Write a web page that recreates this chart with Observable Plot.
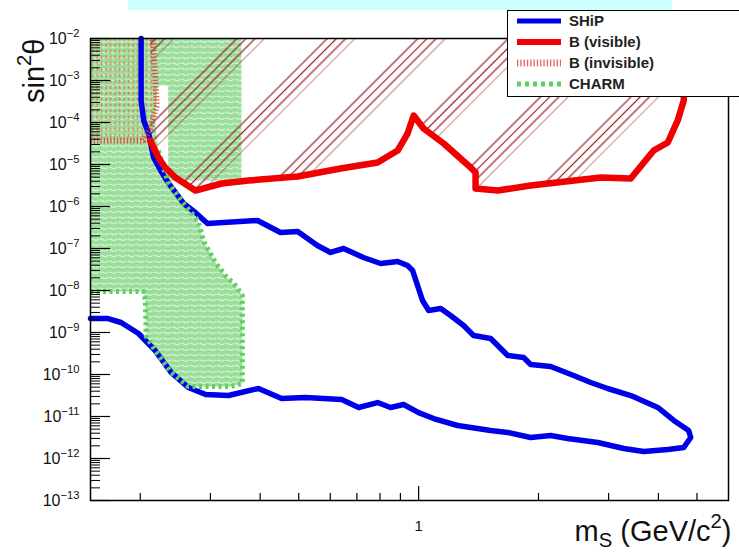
<!DOCTYPE html>
<html>
<head>
<meta charset="utf-8">
<script src="https://cdn.jsdelivr.net/npm/d3@7"></script>
<script src="https://cdn.jsdelivr.net/npm/@observablehq/plot@0.6"></script>
<style>
  html, body { margin: 0; padding: 0; background: #fff; }
  #wrap { position: relative; width: 739px; height: 552px; overflow: hidden;
          font-family: "Liberation Sans", Arial, Helvetica, sans-serif; }
  #banner { position: absolute; left: 128px; top: 0; width: 544px; height: 10px; background: #ccffff; }
  #legend { position: absolute; left: 507px; top: 10px; width: 240px; height: 87px; box-sizing: border-box;
            border: 1px solid #000; background: #fff; }
  .row { position: absolute; left: 0; width: 100%; height: 20px; }
  .row svg { position: absolute; left: 9px; top: 0; }
  .row span { position: absolute; left: 61px; top: 0; line-height: 20px; font-weight: bold; font-size: 15px;
              color: #222; white-space: nowrap; }
</style>
</head>
<body>
<div id="wrap">
  <div id="chart"></div>
  <div id="banner"></div>
  <div id="legend"></div>
</div>
<script>
const ns = "http://www.w3.org/2000/svg";

// SHiP sensitivity contour: upper branch from the top edge, round the tip, lower branch back to the left
const shipMass = [0.201, 0.201, 0.204, 0.210, 0.216, 0.225, 0.235, 0.257, 0.275, 0.295,
  0.394, 0.450, 0.497, 0.557, 0.601, 0.648, 0.727, 0.803, 0.886, 0.938,
  0.966, 1.023, 1.060, 1.136, 1.203, 1.297, 1.374, 1.517, 1.674, 1.835,
  1.911, 2.146, 2.450, 2.705, 2.984, 3.410, 3.986, 4.372, 4.766, 4.823,
  4.632, 4.224, 3.675, 3.275, 2.818, 2.367, 2.146, 1.911, 1.674, 1.517,
  1.253, 1.091, 1.000, 0.917, 0.850, 0.789, 0.707, 0.641, 0.520, 0.453,
  0.396, 0.367, 0.333, 0.292, 0.264, 0.239, 0.218, 0.198, 0.179, 0.166, 0.150];
const shipSin2 = [1e-2, 3.34e-4, 1.12e-4, 5.47e-5, 1.47e-5, 7.19e-6, 3.72e-6, 1.18e-6, 7.19e-7, 3.94e-7,
  4.64e-7, 2.40e-7, 2.54e-7, 1.18e-7, 8.04e-8, 1.0e-7, 6.11e-8, 4.40e-8, 4.90e-8, 3.94e-8,
  2.99e-8, 5.78e-9, 3.34e-9, 3.72e-9, 2.54e-9, 1.47e-9, 8.49e-10, 7.19e-10, 2.83e-10, 2.54e-10,
  1.73e-10, 1.55e-10, 9.46e-11, 6.46e-11, 4.64e-11, 3.16e-11, 1.64e-11, 8.04e-12, 4.64e-12, 3.16e-12,
  1.83e-12, 1.64e-12, 1.47e-12, 1.73e-12, 2.40e-12, 2.99e-12, 3.53e-12, 3.16e-12, 4.16e-12, 4.64e-12,
  6.11e-12, 8.95e-12, 1.24e-11, 1.93e-11, 1.64e-11, 2.15e-11, 1.64e-11, 2.54e-11, 2.83e-11, 2.69e-11,
  4.64e-11, 3.94e-11, 3.16e-11, 3.34e-11, 4.90e-11, 1.12e-10, 3.72e-10, 9.46e-10, 1.73e-9, 2.15e-9, 2.15e-9];

// B decays, visible final states: lower edge of the excluded region
const bVisMass = [0.212, 0.222, 0.231, 0.245, 0.275, 0.320, 0.374, 0.497, 0.637, 0.789,
  0.886, 0.938, 0.972, 1.029, 1.156, 1.351, 1.390, 1.390, 1.579, 1.911,
  2.865, 3.410, 3.893, 4.224, 4.473, 4.632, 4.659];
const bVisSin2 = [3.72e-5, 1.47e-5, 8.49e-6, 4.90e-6, 2.40e-6, 3.53e-6, 4.16e-6, 5.18e-6, 8.04e-6, 1.12e-5,
  2.15e-5, 5.47e-5, 1.47e-4, 7.19e-5, 3.16e-5, 8.49e-6, 6.46e-6, 2.69e-6, 2.40e-6, 3.16e-6,
  4.90e-6, 4.64e-6, 2.15e-5, 3.34e-5, 1.12e-4, 3.34e-4, 1e-2];

// B decays, invisible final states: boundary of the excluded corner
const bInvMass = [0.150, 0.204, 0.212, 0.220, 0.218, 0.215];
const bInvSin2 = [3.72e-5, 3.72e-5, 7.19e-5, 2.54e-4, 1.32e-3, 1e-2];

// CHARM excluded region: upper block, then the dotted outer edge
const charmTopMass = [0.150, 0.359, 0.359, 0.235, 0.235, 0.221, 0.218];
const charmTopSin2 = [1e-2, 1e-2, 4.16e-6, 4.16e-6, 7.60e-4, 7.60e-4, 1.12e-4];
const charmEdgeMass = [0.222, 0.229, 0.235, 0.257, 0.279, 0.283, 0.288, 0.297, 0.309, 0.327,
  0.347, 0.361, 0.361, 0.337, 0.264, 0.239, 0.218, 0.207, 0.206, 0.204, 0.150];
const charmEdgeSin2 = [2.15e-5, 8.04e-6, 3.72e-6, 1.18e-6, 4.64e-7, 2.99e-7, 1.55e-7, 8.95e-8, 4.64e-8, 2.28e-8,
  1.32e-8, 7.60e-9, 6.11e-11, 5.18e-11, 5.18e-11, 1.12e-10, 3.72e-10, 8.04e-10, 5.78e-9, 9.46e-9, 9.46e-9];

// axes
const xDomain = [0.15, 6];
const yDecades = [-13, -12, -11, -10, -9, -8, -7, -6, -5, -4, -3, -2];
const yMinorSteps = [2, 3, 4, 5, 6, 7, 8, 9];
const xMinorTicks = [0.2, 0.3, 0.4, 0.5, 0.6, 0.7, 0.8, 0.9, 2, 3, 4, 5];
const xLabelTicks = [1];

const legendItems = [
  {label: "SHiP", stroke: "#0000e8", width: 5, dash: null, opacity: 1},
  {label: "B (visible)", stroke: "#f00000", width: 6, dash: null, opacity: 1},
  {label: "B (invisible)", stroke: "#e03a3a", width: 7, dash: "1.3 2", opacity: 0.8},
  {label: "CHARM", stroke: "#5fcf5f", width: 5, dash: "4 4", opacity: 1}
];

const W = 739, H = 552, mL = 90, mR = 11, mT = 38, mB = 52;
const frameW = W - mL - mR, frameH = H - mT - mB;

const toPoints = (ms, ss) => ms.map((m, i) => ({m, s: ss[i]}));
const ship = toPoints(shipMass, shipSin2);
const bVis = toPoints(bVisMass, bVisSin2);
const bInv = toPoints(bInvMass, bInvSin2);
const charmTop = toPoints(charmTopMass, charmTopSin2);
const charmEdge = toPoints(charmEdgeMass, charmEdgeSin2);
const yLow = 10 ** yDecades[0], yTop = 10 ** yDecades[yDecades.length - 1];
const bVisArea = [...bVis, {m: bVisMass[0], s: yTop}];
const bInvArea = [...bInv, {m: xDomain[0], s: yTop}];
const charmArea = [...charmTop, ...charmEdge];

const yMajor = yDecades.map(e => 10 ** e);
const yMinor = yDecades.slice(0, -1).flatMap(e => yMinorSteps.map(k => k * 10 ** e));

const chart = Plot.plot({
  width: W, height: H,
  marginLeft: mL, marginRight: mR, marginTop: mT, marginBottom: mB,
  x: {type: "log", domain: xDomain},
  y: {type: "log", domain: [yLow, yTop]},
  style: {fontFamily: '"Liberation Sans", Arial, Helvetica, sans-serif', fontSize: "15px", background: "transparent", color: "#111"},
  marks: [
    Plot.line(charmArea, {x: "m", y: "s", fill: "url(#charmFill)", stroke: "none"}),
    Plot.line(bInvArea, {x: "m", y: "s", fill: "url(#bInvFill)", stroke: "none"}),
    Plot.line(bVisArea, {x: "m", y: "s", fill: "url(#bVisHatch)", stroke: "none"}),
    Plot.line(ship, {x: "m", y: "s", stroke: "#0000e8", strokeWidth: 5.5, strokeLinejoin: "round"}),
    Plot.line(charmEdge, {x: "m", y: "s", stroke: "#62cf62", strokeWidth: 5, strokeDasharray: "3,3.5",
      strokeLinecap: "butt", strokeLinejoin: "miter"}),
    Plot.line(bInv, {x: "m", y: "s", stroke: "#e03a3a", strokeWidth: 6, strokeDasharray: "1.3,2",
      strokeLinecap: "butt", strokeLinejoin: "miter", strokeOpacity: 0.85}),
    Plot.line(bVis, {x: "m", y: "s", stroke: "#f00000", strokeWidth: 6.5, strokeLinejoin: "round"}),
    Plot.frame({stroke: "#000", strokeWidth: 1.5}),
    Plot.ruleY(yMajor, {y: d => d, insetRight: frameW - 20, stroke: "#000", strokeWidth: 1.2}),
    Plot.ruleY(yMinor, {y: d => d, insetRight: frameW - 10, stroke: "#000", strokeWidth: 1}),
    Plot.ruleX(xLabelTicks, {x: d => d, insetTop: frameH - 14, stroke: "#000", strokeWidth: 1.2}),
    Plot.ruleX(xMinorTicks, {x: d => d, insetTop: frameH - 7, stroke: "#000", strokeWidth: 1.2}),
    Plot.axisY(yMajor, {tickSize: 0, tickPadding: 11, fontSize: 16, label: null,
      tickFormat: d => `10{^−${-Math.round(Math.log10(d))}}`}),
    Plot.axisX(xLabelTicks, {tickSize: 0, tickPadding: 20, fontSize: 15, label: null,
      tickFormat: d => String(d)}),
    Plot.text(["sin{^2}θ"], {text: d => d, frameAnchor: "top-left", dx: -47, dy: 0, rotate: -90,
      textAnchor: "end", lineAnchor: "bottom", fontSize: 29}),
    Plot.text(["m{_S} (GeV/c{^2})"], {text: d => d, frameAnchor: "bottom-right", dx: 3, dy: 40,
      textAnchor: "end", lineAnchor: "bottom", fontSize: 29})
  ]
});

// fill patterns for the excluded regions
const defs = document.createElementNS(ns, "defs");
defs.innerHTML = `
  <pattern id="charmFill" patternUnits="userSpaceOnUse" width="9" height="5.5">
    <rect width="9" height="5.5" fill="#9ade9a"/>
    <path d="M0.5 2.2h2.5l1 1h2.5l1 -1h1" fill="none" stroke="#e6f7e6" stroke-width="1.1"/>
  </pattern>
  <pattern id="bInvFill" patternUnits="userSpaceOnUse" width="4.5" height="6">
    <rect x="1.5" y="1" width="1.4" height="3.5" fill="#e2552e" fill-opacity="0.7"/>
  </pattern>
  <pattern id="bVisHatch" patternUnits="userSpaceOnUse" width="64" height="64" patternTransform="rotate(45)">
    <g stroke="#9a1c1f" stroke-width="1.2">
      <line x1="2" y1="0" x2="2" y2="64"/>
      <line x1="8.5" y1="0" x2="8.5" y2="64"/>
      <line x1="15" y1="0" x2="15" y2="64"/>
      <line x1="21.5" y1="0" x2="21.5" y2="64" stroke-opacity="0.45"/>
    </g>
  </pattern>`;
chart.insertBefore(defs, chart.firstChild);

// turn {^..} and {_..} markers into raised / lowered tspans
function richify(el) {
  const src = el.textContent;
  if (!src.includes("{")) return;
  const parts = src.split(/(\{[\^_][^}]*\})/).filter(p => p);
  el.textContent = "";
  let back = null;
  for (const p of parts) {
    const t = document.createElementNS(ns, "tspan");
    const m = p.match(/^\{([\^_])(.*)\}$/);
    if (m) {
      const up = m[1] === "^";
      t.textContent = m[2];
      t.setAttribute("style", "font-size:70%");
      t.setAttribute("dy", up ? "-0.6em" : "0.3em");
      back = up ? "0.42em" : "-0.21em";
    } else {
      t.textContent = p;
      if (back) t.setAttribute("dy", back);
      back = null;
    }
    el.appendChild(t);
  }
}
chart.querySelectorAll("text").forEach(richify);

document.getElementById("chart").appendChild(chart);

// legend
const legend = document.getElementById("legend");
legendItems.forEach((item, i) => {
  const row = document.createElement("div");
  row.className = "row";
  row.style.top = (i * 21) + "px";
  const s = document.createElementNS(ns, "svg");
  s.setAttribute("width", 46);
  s.setAttribute("height", 20);
  const ln = document.createElementNS(ns, "line");
  ln.setAttribute("x1", 0); ln.setAttribute("x2", 44);
  ln.setAttribute("y1", 10); ln.setAttribute("y2", 10);
  ln.setAttribute("stroke", item.stroke);
  ln.setAttribute("stroke-width", item.width);
  ln.setAttribute("stroke-opacity", item.opacity);
  if (item.dash) ln.setAttribute("stroke-dasharray", item.dash);
  s.appendChild(ln);
  const span = document.createElement("span");
  span.textContent = item.label;
  row.appendChild(s);
  row.appendChild(span);
  legend.appendChild(row);
});
</script>
</body>
</html>
